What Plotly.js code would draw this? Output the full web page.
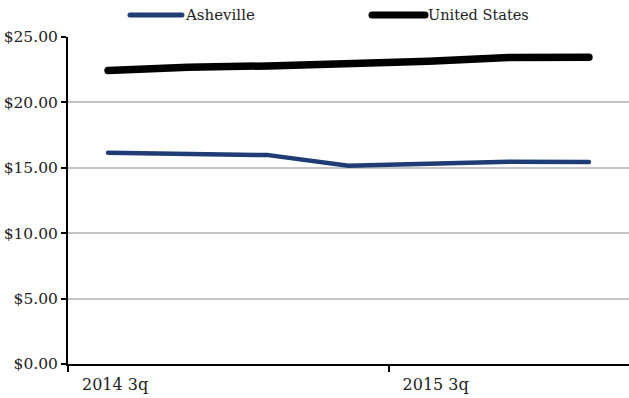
<!DOCTYPE html>
<html>
<head>
<meta charset="utf-8">
<script src="https://cdn.plot.ly/plotly-3.0.1.min.js"></script>
<style>
  html, body { margin: 0; padding: 0; background: #fff; }
  #chart { width: 629px; height: 398px; }
  .scatterlayer path.js-line, .shapelayer path { stroke-linecap: round; stroke-linejoin: round; }
</style>
</head>
<body>
<div id="chart"></div>
<script>
// Quarterly wage series
const quarters = ['2014 3q', '2014 4q', '2015 1q', '2015 2q', '2015 3q', '2015 4q', '2016 1q'];
const seriesNames = ['Asheville', 'United States'];
const asheville = [16.15, 16.07, 15.97, 15.15, 15.34, 15.46, 15.44];
const unitedStates = [22.44, 22.69, 22.79, 22.95, 23.15, 23.43, 23.45];
const yTickValues = [0, 5, 10, 15, 20, 25];
const yTickLabels = ['$0.00', '$5.00', '$10.00', '$15.00', '$20.00', '$25.00'];

const fontFamily = '"DejaVu Serif", "Liberation Serif", serif';
const navy = '#1F3D74';

const traces = [
  {
    x: quarters, y: asheville, name: seriesNames[0],
    type: 'scatter', mode: 'lines',
    line: { color: navy, width: 4.5 },
    hoverinfo: 'skip'
  },
  {
    x: quarters, y: unitedStates, name: seriesNames[1],
    type: 'scatter', mode: 'lines',
    line: { color: '#000000', width: 7.5 },
    hoverinfo: 'skip'
  }
];

// Legend keys drawn as short strokes next to their labels
const keyY = 1.067;
const shapes = [
  { type: 'line', xref: 'paper', yref: 'paper', x0: 0.1105, x1: 0.2032, y0: keyY, y1: keyY,
    line: { color: navy, width: 5 } },
  { type: 'line', xref: 'paper', yref: 'paper', x0: 0.5419, x1: 0.6364, y0: keyY, y1: keyY,
    line: { color: '#000000', width: 7 } }
];
const annotations = [
  { xref: 'paper', yref: 'paper', x: 0.2050, y: keyY, xanchor: 'left', yanchor: 'middle',
    text: seriesNames[0], showarrow: false, font: { family: fontFamily, size: 15, color: '#222' } },
  { xref: 'paper', yref: 'paper', x: 0.6380, y: keyY, xanchor: 'left', yanchor: 'middle',
    text: seriesNames[1], showarrow: false, font: { family: fontFamily, size: 14.5, color: '#222' } }
];

const layout = {
  width: 629, height: 398,
  margin: { l: 68, r: 0, t: 37, b: 34 },
  paper_bgcolor: '#ffffff', plot_bgcolor: '#ffffff',
  showlegend: false,
  font: { family: fontFamily, size: 15, color: '#222' },
  xaxis: {
    type: 'category',
    categoryorder: 'array', categoryarray: quarters,
    range: [-0.5, quarters.length - 0.5],
    tickmode: 'linear', tick0: 0, dtick: 4,
    tickson: 'boundaries',
    ticks: 'outside', ticklen: 6, tickwidth: 2, tickcolor: '#000',
    ticklabelshift: 7, ticklabelstandoff: 5,
    showline: true, linecolor: '#000', linewidth: 2,
    showgrid: false, zeroline: false,
    tickfont: { family: fontFamily, size: 16, color: '#222' }
  },
  yaxis: {
    range: [0, 25],
    tickmode: 'array', tickvals: yTickValues, ticktext: yTickLabels,
    ticks: 'outside', ticklen: 5, tickwidth: 2, tickcolor: '#000',
    ticklabelstandoff: 0,
    showline: true, linecolor: '#000', linewidth: 2,
    showgrid: true, gridcolor: '#c4c4c4', gridwidth: 2,
    zeroline: false,
    tickfont: { family: fontFamily, size: 15.5, color: '#222' }
  },
  shapes: shapes,
  annotations: annotations
};

Plotly.newPlot('chart', traces, layout, { staticPlot: true, displayModeBar: false });
</script>
</body>
</html>
